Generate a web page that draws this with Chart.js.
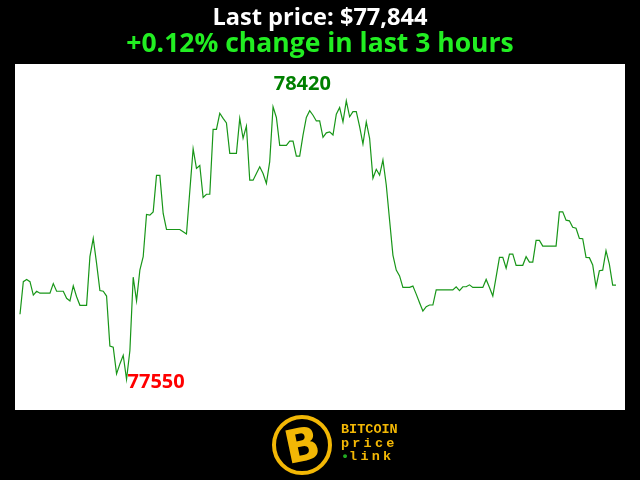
<!DOCTYPE html>
<html>
<head>
<meta charset="utf-8">
<script src="https://cdn.jsdelivr.net/npm/chart.js@4/dist/chart.umd.min.js"></script>
<style>
  html, body { margin: 0; padding: 0; background: #000; }
  #wrap { position: relative; width: 640px; height: 480px; overflow: hidden; background: #000; }
  #chart { position: absolute; left: 0; top: 0; }
  .hdr { position: absolute; left: 0; width: 640px; text-align: center; font-family: "Open Sans", sans-serif; font-weight: 700; white-space: nowrap; }
  #lastPrice { top: 5px; font-size: 23.6px; line-height: 23.6px; color: #fff; }
  #change { top: 28.5px; font-size: 26.5px; line-height: 26.5px; color: #22ee22; }
  #logoRing { position: absolute; left: 272px; top: 415px; width: 60px; height: 60px; box-sizing: border-box;
    border: 4px solid #f2b705; border-radius: 50%; background: #000; }
  #logoB { position: absolute; left: 0; top: 0; width: 52px; height: 52px; text-align: center; line-height: 52px;
    font-family: "DejaVu Sans", sans-serif; font-weight: 700; font-size: 46px; color: #f2b705; transform: rotate(-12deg); }
  .logoTxt { position: absolute; left: 341px; font-family: "Liberation Mono", monospace; font-weight: 700;
    font-size: 13.5px; line-height: 13px; color: #f2b705; white-space: nowrap; }
  #lt1 { top: 423px; }
  #lt2 { top: 437px; letter-spacing: 3.2px; }
  #lt3 { top: 450px; letter-spacing: 3.2px; }
  #lt3 b { color: #22aa22; letter-spacing: 0; }
</style>
</head>
<body>
<div id="wrap">
  <canvas id="chart" width="640" height="480"></canvas>
  <div class="hdr" id="lastPrice"></div>
  <div class="hdr" id="change"></div>
  <div id="logoRing"><div id="logoB">B</div></div>
  <div class="logoTxt" id="lt1">BITCOIN</div>
  <div class="logoTxt" id="lt2">price</div>
  <div class="logoTxt" id="lt3"><b>•</b>link</div>
</div>
<script>
// precio por minuto, últimas 3 horas
const prices = [
  77753, 77855, 77862, 77855, 77813, 77825, 77819, 77819, 77819, 77819,
  77849, 77825, 77825, 77825, 77803, 77795, 77842, 77808, 77781, 77781,
  77781, 77933, 77990, 77912, 77827, 77825, 77810, 77654, 77650, 77567,
  77598, 77625, 77550, 77639, 77869, 77795, 77891, 77933, 78065, 78063,
  78073, 78187, 78187, 78068, 78018, 78018, 78018, 78018, 78018, 78011,
  78004, 78138, 78270, 78209, 78218, 78118, 78128, 78128, 78331, 78331,
  78381, 78365, 78351, 78256, 78256, 78256, 78365, 78303, 78341, 78172,
  78172, 78193, 78214, 78193, 78162, 78230, 78401, 78368, 78281, 78281,
  78281, 78294, 78294, 78247, 78247, 78313, 78368, 78389, 78375, 78357,
  78357, 78306, 78320, 78323, 78313, 78378, 78399, 78354, 78420, 78370,
  78386, 78386, 78339, 78285, 78354, 78303, 78178, 78206, 78188, 78235,
  78157, 78047, 77938, 77891, 77873, 77837, 77837, 77837, 77841, 77816,
  77789, 77763, 77777, 77782, 77782, 77829, 77829, 77829, 77829, 77829,
  77829, 77839, 77827, 77839, 77839, 77845, 77837, 77837, 77837, 77837,
  77862, 77837, 77810, 77870, 77931, 77931, 77897, 77941, 77941, 77906,
  77906, 77906, 77933, 77916, 77916, 77984, 77984, 77966, 77966, 77966,
  77966, 77966, 78073, 78073, 78047, 78045, 78025, 78022, 77990, 77989,
  77931, 77930, 77907, 77839, 77889, 77891, 77952, 77910, 77844, 77844,
];
const minutes = prices.map((_, i) => i);

const Y_MIN = 77454;
const Y_MAX = 78535;
const X_MIN = -1.5;
const X_MAX = 181.7;

const $ = (id) => document.getElementById(id);

const first = prices[0];
const last = prices[prices.length - 1];
const pct = ((last - first) / first) * 100;
$("lastPrice").textContent = `Last price: $${last.toLocaleString("en-US")}`;
$("change").textContent = `${pct >= 0 ? "+" : ""}${pct.toFixed(2)}% change in last 3 hours`;

// fondo blanco del área de trazado
const plotBg = {
  id: "plotBg",
  beforeDraw(chart) {
    const { ctx, chartArea: a } = chart;
    ctx.save();
    ctx.fillStyle = "#fff";
    ctx.fillRect(a.left, a.top, a.right - a.left, a.bottom - a.top);
    ctx.restore();
  },
};

// etiquetas de máximo y mínimo
const extremes = {
  id: "extremes",
  afterDatasetsDraw(chart) {
    const { ctx, scales: { x, y } } = chart;
    const hi = Math.max(...prices), lo = Math.min(...prices);
    const hiI = prices.indexOf(hi), loI = prices.indexOf(lo);
    ctx.save();
    ctx.font = "bold 20px 'Open Sans', sans-serif";
    ctx.textBaseline = "alphabetic";
    ctx.fillStyle = "#008000";
    ctx.textAlign = "center";
    ctx.fillText(String(hi), x.getPixelForValue(minutes[hiI]) - 44, y.getPixelForValue(hi) - 10.5);
    ctx.fillStyle = "#ff0000";
    ctx.textAlign = "left";
    ctx.fillText(String(lo), x.getPixelForValue(minutes[loI]) + 1, y.getPixelForValue(lo) + 8.7);
    ctx.restore();
  },
};

new Chart($("chart"), {
  type: "line",
  data: {
    datasets: [{
      data: minutes.map((m, i) => ({ x: m, y: prices[i] })),
      borderColor: "rgb(24,150,24)",
      borderWidth: 1.2,
      pointRadius: 0,
      tension: 0,
      fill: false,
    }],
  },
  options: {
    responsive: false,
    animation: false,
    layout: { padding: { top: 64, left: 15, right: 15, bottom: 70 } },
    plugins: { legend: { display: false }, tooltip: { enabled: false }, title: { display: false } },
    scales: {
      x: { type: "linear", display: false, min: X_MIN, max: X_MAX },
      y: { display: false, min: Y_MIN, max: Y_MAX },
    },
  },
  plugins: [plotBg, extremes],
});
</script>
</body>
</html>
